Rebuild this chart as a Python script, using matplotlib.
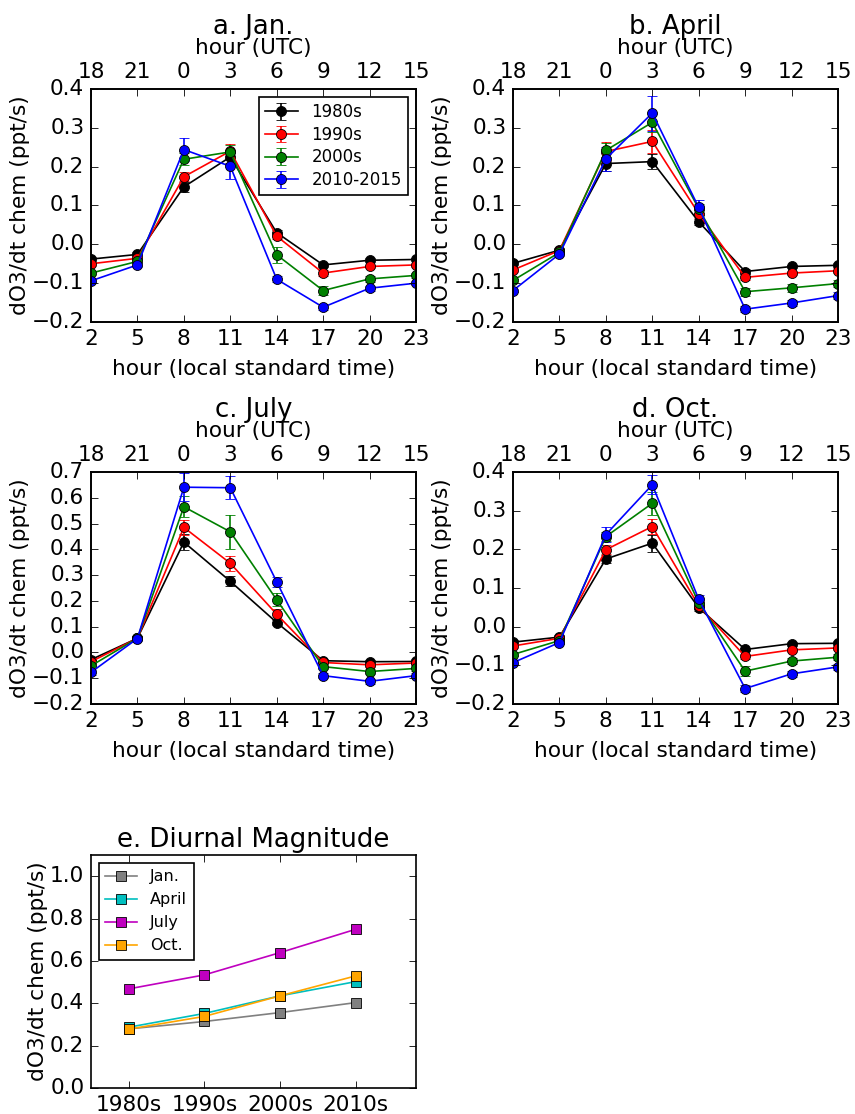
import matplotlib
matplotlib.use("Agg")
import matplotlib.pyplot as plt

plt.style.use("classic")
plt.rcParams["figure.facecolor"] = "white"
plt.rcParams["savefig.facecolor"] = "white"
plt.rcParams["legend.numpoints"] = 1
plt.rcParams["font.family"] = ["DejaVu Sans"]
plt.rcParams["font.size"] = 13
plt.rcParams["xtick.labelsize"] = 13
plt.rcParams["ytick.labelsize"] = 13
plt.rcParams["axes.labelsize"] = 13

hours = [2, 5, 8, 11, 14, 17, 20, 23]
utc_labels = ["18", "21", "0", "3", "6", "9", "12", "15"]
decades = ["1980s", "1990s", "2000s", "2010-2015"]
colors = ["k", "r", "g", "b"]

# dO3/dt chem (ppt/s) by decade, one list per month
jan_1980s = [-0.038, -0.026, 0.148, 0.225, 0.030, -0.053, -0.041, -0.039]
jan_1990s = [-0.050, -0.036, 0.174, 0.240, 0.021, -0.074, -0.057, -0.053]
jan_2000s = [-0.074, -0.044, 0.219, 0.238, -0.027, -0.119, -0.089, -0.080]
jan_2010s = [-0.094, -0.053, 0.244, 0.201, -0.090, -0.162, -0.113, -0.100]

apr_1980s = [-0.049, -0.015, 0.208, 0.213, 0.058, -0.070, -0.057, -0.054]
apr_1990s = [-0.066, -0.016, 0.239, 0.265, 0.079, -0.085, -0.074, -0.068]
apr_2000s = [-0.093, -0.021, 0.242, 0.314, 0.092, -0.122, -0.112, -0.101]
apr_2010s = [-0.119, -0.025, 0.220, 0.338, 0.095, -0.167, -0.151, -0.132]

jul_1980s = [-0.028, 0.055, 0.428, 0.276, 0.116, -0.032, -0.036, -0.035]
jul_1990s = [-0.036, 0.055, 0.485, 0.346, 0.148, -0.039, -0.048, -0.041]
jul_2000s = [-0.052, 0.055, 0.565, 0.468, 0.204, -0.055, -0.074, -0.062]
jul_2010s = [-0.077, 0.054, 0.641, 0.639, 0.274, -0.090, -0.112, -0.090]

oct_1980s = [-0.040, -0.027, 0.175, 0.216, 0.049, -0.059, -0.044, -0.043]
oct_1990s = [-0.050, -0.030, 0.199, 0.259, 0.054, -0.077, -0.060, -0.055]
oct_2000s = [-0.072, -0.036, 0.233, 0.319, 0.062, -0.115, -0.089, -0.079]
oct_2010s = [-0.093, -0.041, 0.238, 0.367, 0.071, -0.160, -0.122, -0.104]

# error bars
jan_err = [[0.005, 0.005, 0.012, 0.015, 0.008, 0.005, 0.005, 0.005],
           [0.005, 0.005, 0.012, 0.018, 0.008, 0.008, 0.005, 0.005],
           [0.005, 0.005, 0.015, 0.018, 0.020, 0.012, 0.008, 0.006],
           [0.005, 0.005, 0.030, 0.033, 0.008, 0.008, 0.006, 0.006]]
apr_err = [[0.005, 0.005, 0.018, 0.020, 0.008, 0.006, 0.005, 0.005],
           [0.005, 0.005, 0.025, 0.030, 0.010, 0.008, 0.006, 0.006],
           [0.005, 0.005, 0.018, 0.025, 0.012, 0.010, 0.010, 0.008],
           [0.005, 0.005, 0.030, 0.045, 0.020, 0.008, 0.008, 0.008]]
jul_err = [[0.008, 0.005, 0.030, 0.020, 0.010, 0.008, 0.008, 0.008],
           [0.008, 0.005, 0.030, 0.030, 0.020, 0.008, 0.008, 0.008],
           [0.008, 0.005, 0.040, 0.065, 0.025, 0.010, 0.010, 0.010],
           [0.010, 0.010, 0.055, 0.045, 0.020, 0.010, 0.010, 0.010]]
oct_err = [[0.005, 0.005, 0.010, 0.022, 0.008, 0.005, 0.005, 0.005],
           [0.005, 0.005, 0.012, 0.020, 0.008, 0.006, 0.005, 0.005],
           [0.005, 0.005, 0.012, 0.030, 0.010, 0.012, 0.008, 0.008],
           [0.005, 0.005, 0.020, 0.025, 0.010, 0.008, 0.008, 0.008]]

# diurnal magnitude
mag_decades = ["1980s", "1990s", "2000s", "2010s"]
mag_jan = [0.279, 0.314, 0.356, 0.403]
mag_apr = [0.287, 0.352, 0.435, 0.502]
mag_jul = [0.468, 0.534, 0.639, 0.749]
mag_oct = [0.278, 0.338, 0.435, 0.529]

W, H = 855, 1114
fig = plt.figure(figsize=(W / 120, H / 120), dpi=120)


def frac(left, top, right, bottom):
    return [left / W, 1 - bottom / H, (right - left) / W, (bottom - top) / H]


panels = [
    ("a. Jan.", [jan_1980s, jan_1990s, jan_2000s, jan_2010s], jan_err,
     frac(91, 89, 416, 322), (-0.2, 0.4), True),
    ("b. April", [apr_1980s, apr_1990s, apr_2000s, apr_2010s], apr_err,
     frac(513, 89, 838, 322), (-0.2, 0.4), False),
    ("c. July", [jul_1980s, jul_1990s, jul_2000s, jul_2010s], jul_err,
     frac(91, 472, 416, 704), (-0.2, 0.7), False),
    ("d. Oct.", [oct_1980s, oct_1990s, oct_2000s, oct_2010s], oct_err,
     frac(513, 472, 838, 704), (-0.2, 0.4), False),
]

for title, series, errs, rect, ylim, show_legend in panels:
    ax = fig.add_axes(rect)
    for vals, err, c, lab in zip(series, errs, colors, decades):
        ax.errorbar(hours, vals, yerr=err, color=c, ecolor=c, marker="o",
                    markersize=6, markeredgecolor="k", markeredgewidth=0.5,
                    capsize=3, label=lab)
    ax.set_xlim(2, 23)
    ax.set_ylim(*ylim)
    ax.set_xticks(hours)
    ax.set_xlabel("hour (local standard time)", labelpad=6)
    ax.set_ylabel("dO3/dt chem (ppt/s)", labelpad=1)
    if show_legend:
        ax.legend(loc="upper right", fontsize=10, labelspacing=0.28,
                  borderpad=0.35)
    ax2 = ax.twiny()
    ax2.set_xlim(2, 23)
    ax2.set_xticks(hours)
    ax2.set_xticklabels(utc_labels)
    ax2.set_xlabel("hour (UTC)", labelpad=5)
    ax2.set_title(title, fontsize=15.6, y=1.2)

# e. diurnal magnitude
axe = fig.add_axes(frac(91, 855, 416, 1088))
xpos = list(range(len(mag_decades)))
for vals, c, lab in zip([mag_jan, mag_apr, mag_jul, mag_oct],
                        ["gray", "c", "m", "orange"],
                        ["Jan.", "April", "July", "Oct."]):
    axe.plot(xpos, vals, color=c, marker="s", markersize=6,
             markeredgecolor="k", markeredgewidth=0.5, label=lab)
axe.set_xlim(-0.5, 3.8)
axe.set_ylim(0, 1.1)
axe.set_yticks([0.0, 0.2, 0.4, 0.6, 0.8, 1.0])
axe.set_xticks(xpos)
axe.set_xticklabels(mag_decades)
axe.set_ylabel("dO3/dt chem (ppt/s)", labelpad=1)
axe.set_title("e. Diurnal Magnitude", fontsize=15.6)
axe.legend(loc="upper left", fontsize=9.6, labelspacing=0.5, borderpad=0.4)

fig.savefig("out.png", dpi=120)
